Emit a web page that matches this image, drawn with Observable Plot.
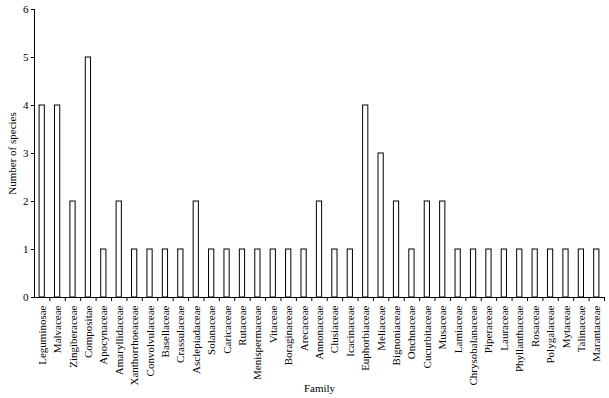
<!DOCTYPE html>
<html>
<head>
<meta charset="utf-8">
<script src="https://cdn.jsdelivr.net/npm/d3@7"></script>
<script src="https://cdn.jsdelivr.net/npm/@observablehq/plot@0.6"></script>
<style>
  html, body { margin: 0; padding: 0; background: #fff; }
  svg { display: block; }
</style>
</head>
<body>
<div id="chart"></div>
<script>
const families = ["Leguminosae","Malvaceae","Zingiberaceae","Compositae","Apocynaceae","Amaryllidaceae","Xanthorrhoeaceae","Convolvulaceae","Basellaceae","Crassulaceae","Asclepiadaceae","Solanaceae","Caricaceae","Rutaceae","Menispermaceae","Vitaceae","Boraginaceae","Arecaceae","Annonaceae","Clusiaceae","Icacinaceae","Euphorbiaceae","Meliaceae","Bignoniaceae","Onchnaceae","Cucurbitaceae","Musaceae","Lamiaceae","Chrysobalanaceae","Piperaceae","Lauraceae","Phyllanthaceae","Rosaceae","Polygalaceae","Mytaceae","Talinaceae","Marantaceae"];
const species = [4,4,2,5,1,2,1,1,1,1,2,1,1,1,1,1,1,1,2,1,1,4,3,2,1,2,2,1,1,1,1,1,1,1,1,1,1];
const yTicks = [0,1,2,3,4,5,6];

const data = families.map((f, i) => ({family: f, n: species[i]}));
const W = 609, H = 398;
const mL = 34, mR = 5;
const step = (W - mL - mR) / families.length;

const chart = Plot.plot({
  width: W,
  height: H,
  marginLeft: mL,
  marginRight: mR,
  marginTop: 9,
  marginBottom: 101,
  style: {fontFamily: "'Liberation Serif', 'Times New Roman', serif", fontSize: "11px", color: "#000", background: "#fff"},
  x: {domain: families, paddingInner: 0.66, paddingOuter: 0.33, align: 0.5, round: false},
  y: {domain: [0, 6]},
  marks: [
    Plot.barY(data, {x: "family", y: "n", fill: "white", stroke: "black", strokeWidth: 1}),
    Plot.axisY({ticks: yTicks, tickSize: 3, tickPadding: 3, tickFormat: d3.format("d"), label: "Number of species", labelAnchor: "center", labelArrow: "none", labelOffset: 26, fontSize: 11}),
    Plot.axisX({tickSize: 0, tickPadding: 8, tickRotate: -90, label: "Family", labelAnchor: "center", labelArrow: "none", labelOffset: 94, fontSize: 11}),
    Plot.axisX({tickSize: 4, text: null, label: null, dx: step / 2}),
    Plot.ruleY([0], {strokeWidth: 1}),
    Plot.frame({anchor: "left"})
  ]
});
document.getElementById("chart").appendChild(chart);
</script>
</body>
</html>
